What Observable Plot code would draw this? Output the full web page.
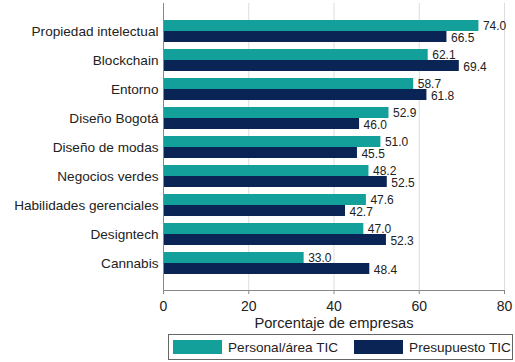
<!DOCTYPE html>
<html>
<head>
<meta charset="utf-8">
<script src="https://cdn.jsdelivr.net/npm/d3@7"></script>
<script src="https://cdn.jsdelivr.net/npm/@observablehq/plot@0.6"></script>
<style>
  html, body { margin: 0; padding: 0; background: #fff; }
  body { font-family: "Liberation Sans", Arial, sans-serif; width: 515px; height: 362px; overflow: hidden; }
  #legend { position: absolute; left: 168px; top: 334px; width: 345px; height: 26px; border: 1px solid #666; box-sizing: border-box; display: flex; align-items: center; font-size: 13.6px; color: #222; white-space: nowrap; }
  .sw { display: inline-block; width: 49px; height: 14px; margin-left: 4px; margin-right: 6px; }
  .item { display: flex; align-items: center; margin-right: 12px; }
</style>
</head>
<body>
<div id="chart"></div>
<div id="legend"></div>
<script>
const categories = ["Propiedad intelectual", "Blockchain", "Entorno", "Diseño Bogotá", "Diseño de modas", "Negocios verdes", "Habilidades gerenciales", "Designtech", "Cannabis"];
const personal = [74.0, 62.1, 58.7, 52.9, 51.0, 48.2, 47.6, 47.0, 33.0];
const presupuesto = [66.5, 69.4, 61.8, 46.0, 45.5, 52.5, 42.7, 52.3, 48.4];
const seriesNames = ["Personal/área TIC", "Presupuesto TIC"];
const colors = ["#13a09b", "#0b2456"];
const xTicks = [0, 20, 40, 60, 80];

const rowsA = categories.map((c, i) => ({cat: c, v: personal[i]}));
const rowsB = categories.map((c, i) => ({cat: c, v: presupuesto[i]}));
const half = 11;

const chart = Plot.plot({
  width: 515,
  height: 333,
  marginLeft: 163,
  marginRight: 11,
  marginTop: 3,
  marginBottom: 43,
  style: {fontFamily: "Liberation Sans, Arial, sans-serif", fontSize: "14px", color: "#222", background: "#fff"},
  x: {domain: [0, 80], ticks: xTicks},
  y: {domain: categories, paddingInner: 0.244, paddingOuter: 0.553},
  marks: [
    Plot.gridX(xTicks.slice(1), {stroke: "#ddd", strokeOpacity: 1}),
    Plot.barX(rowsA, {x: "v", y: "cat", fill: colors[0], insetBottom: half}),
    Plot.barX(rowsB, {x: "v", y: "cat", fill: colors[1], insetTop: half}),
    Plot.text(rowsA, {x: "v", y: "cat", text: d => d.v.toFixed(1), dx: 4, dy: -5, textAnchor: "start", fontSize: 12, fill: "#222"}),
    Plot.text(rowsB, {x: "v", y: "cat", text: d => d.v.toFixed(1), dx: 4, dy: 6.5, textAnchor: "start", fontSize: 12, fill: "#222"}),
    Plot.ruleX([0], {stroke: "#888"}),
    Plot.frame({anchor: "bottom", stroke: "#888"}),
    Plot.axisY({tickSize: 0, tickPadding: 5, label: null, fontSize: 13.6}),
    Plot.axisX({ticks: xTicks, tickSize: 4, tickPadding: 7, stroke: "#888", fontSize: 14, label: null}),
    Plot.axisX({ticks: [], tickSize: 0, fontSize: 14.7, label: "Porcentaje de empresas", labelAnchor: "center", labelArrow: "none", labelOffset: 37.5})
  ]
});
document.getElementById("chart").appendChild(chart);

const legend = d3.select("#legend");
seriesNames.forEach((n, i) => {
  const it = legend.append("div").attr("class", "item");
  it.append("span").attr("class", "sw").style("background", colors[i]);
  it.append("span").text(n);
});
</script>
</body>
</html>
